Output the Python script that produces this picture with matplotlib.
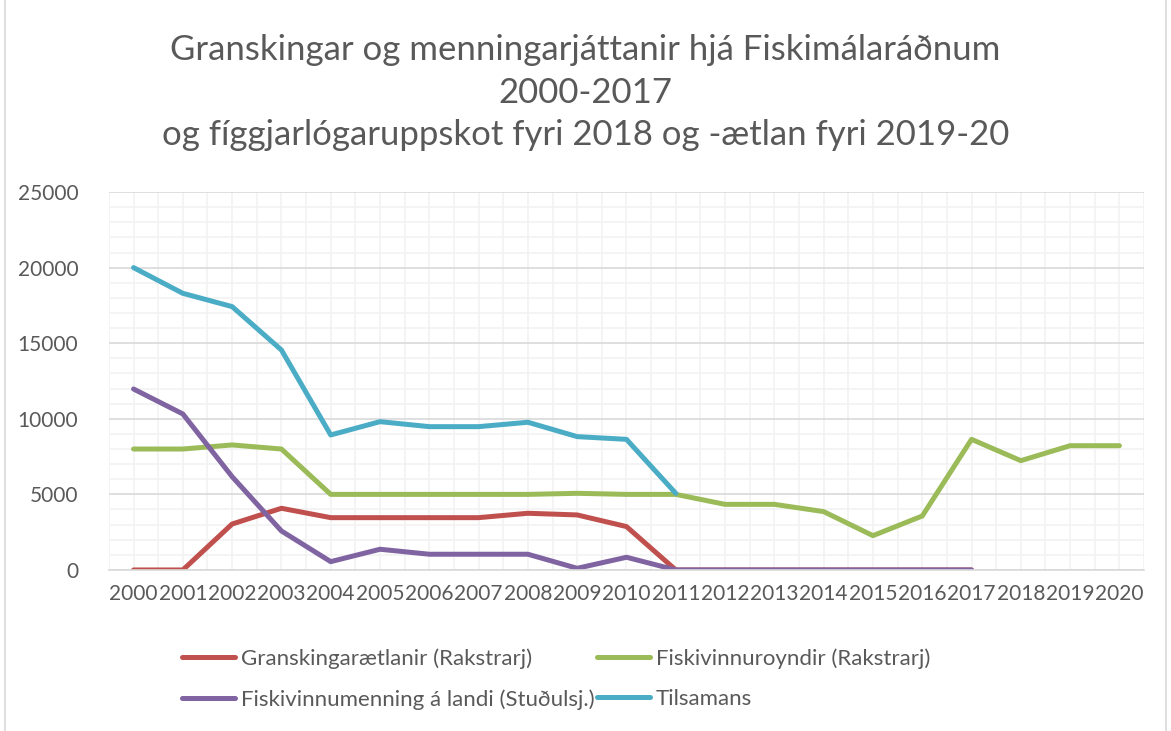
import numpy as np
import matplotlib.pyplot as plt
from matplotlib.patches import Rectangle
from matplotlib.ticker import MultipleLocator

years = [str(y) for y in range(2000, 2021)]

granskingar = [0, 0, 3040, 4080, 3460, 3460, 3460, 3460, 3750, 3640, 2870, 0,
               0, 0, 0, 0, 0, 0]
fiskivinnuroyndir = [8000, 8000, 8270, 8000, 5000, 5000, 5000, 5000, 5000, 5070,
                     5000, 5000, 4340, 4340, 3860, 2270, 3570, 8640, 7230, 8220, 8220]
fiskivinnumenning = [11970, 10320, 6170, 2580, 550, 1370, 1040, 1040, 1040, 110,
                     840, 0, 0, 0, 0, 0, 0, 0]
tilsamans = [20000, 18300, 17420, 14550, 8930, 9810, 9480, 9480, 9770, 8820,
             8640, 5070]

labels = ["Granskingarætlanir (Rakstrarj)", "Fiskivinnuroyndir (Rakstrarj)",
          "Fiskivinnumenning á landi (Stuðulsj.)", "Tilsamans"]
colors = ["#C0504D", "#9BBB59", "#8064A2", "#4BACC6"]

plt.rcParams["font.family"] = ["Lato", "DejaVu Sans"]
text_color = "#595959"

fig = plt.figure(figsize=(11.71, 7.31), dpi=100)
ax = fig.add_axes([0.093, 0.2203, 0.884, 0.517])

series = [granskingar, fiskivinnuroyndir, fiskivinnumenning, tilsamans]
lines = []
for vals, lab, col in zip(series, labels, colors):
    x = np.arange(len(vals))
    ln, = ax.plot(x, vals, color=col, lw=3.6, solid_capstyle="round",
                  solid_joinstyle="round", label=lab)
    lines.append(ln)

ax.set_xlim(-0.5, len(years) - 0.5)
ax.set_ylim(0, 25000)
ax.set_xticks(np.arange(len(years)))
ax.set_xticklabels(years)
ax.xaxis.set_minor_locator(MultipleLocator(0.5))
ax.yaxis.set_major_locator(MultipleLocator(5000))
ax.yaxis.set_minor_locator(MultipleLocator(1000))

ax.grid(which="minor", color="#F2F2F2", lw=1.2, zorder=0)
ax.grid(which="major", axis="x", color="#F2F2F2", lw=1.2, zorder=0)
ax.grid(which="major", axis="y", color="#D9D9D9", lw=1.2, zorder=0)
ax.set_axisbelow(True)

for s in ["top", "right", "left"]:
    ax.spines[s].set_visible(False)
ax.spines["bottom"].set_color("#D9D9D9")
ax.spines["bottom"].set_linewidth(1.2)
ax.tick_params(which="both", length=0)
ax.tick_params(axis="x", labelsize=15, colors=text_color, pad=10)
ax.tick_params(axis="y", labelsize=15, colors=text_color, pad=22)

fig.suptitle("Granskingar og menningarjáttanir hjá Fiskimálaráðnum\n2000-2017\n"
             "og fíggjarlógaruppskot fyri 2018 og -ætlan fyri 2019-20",
             y=0.954, fontsize=25, color=text_color, linespacing=1.42)

# row-wise legend order: matplotlib fills columns first
order = [0, 2, 1, 3]
fig.legend(handles=[lines[i] for i in order], labels=[labels[i] for i in order],
           ncol=2, loc="upper left", bbox_to_anchor=(0.138, 0.14),
           frameon=False, fontsize=16, labelcolor=text_color,
           handlelength=2.4, handletextpad=0.27, columnspacing=0.1,
           labelspacing=0.9)

fig.patches.append(Rectangle((0.004, -0.01), 0.992, 1.05, transform=fig.transFigure,
                             fill=False, edgecolor="#D9D9D9", lw=1.2))

fig.savefig("out.png", dpi=100)
